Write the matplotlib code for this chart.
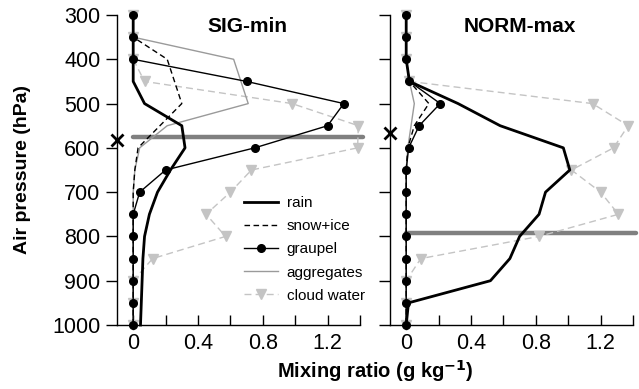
import matplotlib
matplotlib.use("Agg")
import matplotlib.pyplot as plt
import numpy as np

plt.rcParams['font.family'] = ['Liberation Sans', 'DejaVu Sans']

# ---- data ----
pressure = [300, 350, 400, 450, 500, 550, 600, 650, 700, 750, 800, 850, 900, 950, 1000]

rain_sig = [0, 0, 0, 0, 0.07, 0.30, 0.32, 0.23, 0.15, 0.10, 0.07, 0.06, 0.055, 0.05, 0.045]
snow_sig = [0, 0, 0.21, 0.255, 0.30, 0.165, 0.03, 0.01, 0, 0, 0, 0, 0, 0, 0]
graupel_sig = [0, 0, 0, 0.70, 1.30, 1.20, 0.75, 0.20, 0.04, 0, 0, 0, 0, 0, 0]
agg_sig = [0, 0, 0.62, 0.665, 0.71, 0.21, 0.04, 0.01, 0, 0, 0, 0, 0, 0, 0]
cloud_sig = [0, 0, 0, 0.07, 0.98, 1.39, 1.385, 0.73, 0.60, 0.45, 0.57, 0.12, 0, 0, 0]

rain_norm = [0, 0, 0, 0.02, 0.32, 0.58, 0.97, 1.01, 0.86, 0.82, 0.70, 0.64, 0.52, 0.014, 0]
snow_norm = [0, 0, 0, 0.02, 0.14, 0.05, 0.01, 0, 0, 0, 0, 0, 0, 0, 0]
graupel_norm = [0, 0, 0, 0.02, 0.21, 0.08, 0.015, 0, 0, 0, 0, 0, 0, 0, 0]
agg_norm = [0, 0, 0, 0.02, 0.05, 0.03, 0.01, 0, 0, 0, 0, 0, 0, 0, 0]
cloud_norm = [0, 0, 0, 0.02, 1.15, 1.37, 1.28, 1.02, 1.20, 1.31, 0.82, 0.09, 0, 0, 0]

titles = ["SIG-min", "NORM-max"]
hline_p = [575, 793]
xmark_p = [582, 566]
xticks_major = [0, 0.4, 0.8, 1.2]
xtick_labels = ['0', '0.4', '0.8', '1.2']
xticks_minor = [0.2, 0.6, 1.0, 1.4]
yticks = [300, 400, 500, 600, 700, 800, 900, 1000]

W, H = 639, 389
fig = plt.figure(figsize=(W / 100, H / 100), dpi=100)

def fx(px):
    return px / W

def fy(py):
    return 1 - py / H

axes = [fig.add_axes([fx(117), fy(325), fx(243), 310 / H]),
        fig.add_axes([fx(390), fy(325), fx(243), 310 / H])]

panels = [
    (rain_sig, snow_sig, graupel_sig, agg_sig, cloud_sig),
    (rain_norm, snow_norm, graupel_norm, agg_norm, cloud_norm),
]

for i, (ax, data) in enumerate(zip(axes, panels)):
    rain, snow, graupel, agg, cloud = data
    ax.plot([0, 1.42], [hline_p[i], hline_p[i]], color='#808080', lw=3.2,
            solid_capstyle='round', zorder=1, clip_on=False)
    ax.plot(cloud, pressure, color='#c4c4c4', lw=1.0, ls=(0, (5, 3)),
            marker='v', ms=6.5, mfc='#c4c4c4', mec='#c4c4c4', zorder=2,
            clip_on=False, label='cloud water')
    ax.plot(agg, pressure, color='#9a9a9a', lw=1.0, zorder=3, clip_on=False,
            label='aggregates')
    ax.plot(snow, pressure, color='black', lw=1.0, ls=(0, (4, 2.5)), zorder=4,
            clip_on=False, label='snow+ice')
    ax.plot(graupel, pressure, color='black', lw=1.0, marker='o', ms=5.5,
            zorder=5, clip_on=False, label='graupel')
    ax.plot(rain, pressure, color='black', lw=2.0, zorder=6, clip_on=False,
            label='rain')
    ax.plot([-0.1], [xmark_p[i]], marker='x', color='black', ms=9, mew=2.0,
            clip_on=False, zorder=7)

    ax.set_xlim(-0.1, 1.4)
    ax.set_ylim(1000, 300)
    ax.spines['top'].set_visible(False)
    ax.spines['right'].set_visible(False)
    ax.spines['left'].set_linewidth(1.0)
    ax.spines['bottom'].set_linewidth(1.0)
    ax.set_xticks(xticks_major)
    ax.set_xticklabels(xtick_labels)
    ax.set_xticks(xticks_minor, minor=True)
    ax.tick_params(axis='x', which='both', direction='in', length=7, width=1,
                   labelsize=15.5, pad=6)
    ax.set_yticks(yticks)
    ax.tick_params(axis='y', which='both', direction='out', length=8, width=1,
                   labelsize=15.5, pad=4)
    if i == 1:
        ax.set_yticklabels([])
    ax.text(0.535, 0.945, titles[i], transform=ax.transAxes, ha='center',
            va='baseline', fontsize=15, fontweight='bold')

handles, labels = axes[0].get_legend_handles_labels()
order = ['rain', 'snow+ice', 'graupel', 'aggregates', 'cloud water']
hmap = dict(zip(labels, handles))
fig.legend([hmap[k] for k in order], order, loc='upper left',
           bbox_to_anchor=(fx(244), fy(196)), frameon=False, fontsize=11,
           borderpad=0, borderaxespad=0, handlelength=2.2, handletextpad=0.6,
           labelspacing=0.6, numpoints=1)

fig.text(fx(23), fy(170), 'Air pressure (hPa)', rotation=90, ha='center',
         va='center', fontsize=14, fontweight='bold')
fig.text(fx(375), fy(384), 'Mixing ratio (g kg$^{\\mathbf{-1}}$)', ha='center',
         va='bottom', fontsize=14.5, fontweight='bold')

fig.savefig('out.png', dpi=100)
